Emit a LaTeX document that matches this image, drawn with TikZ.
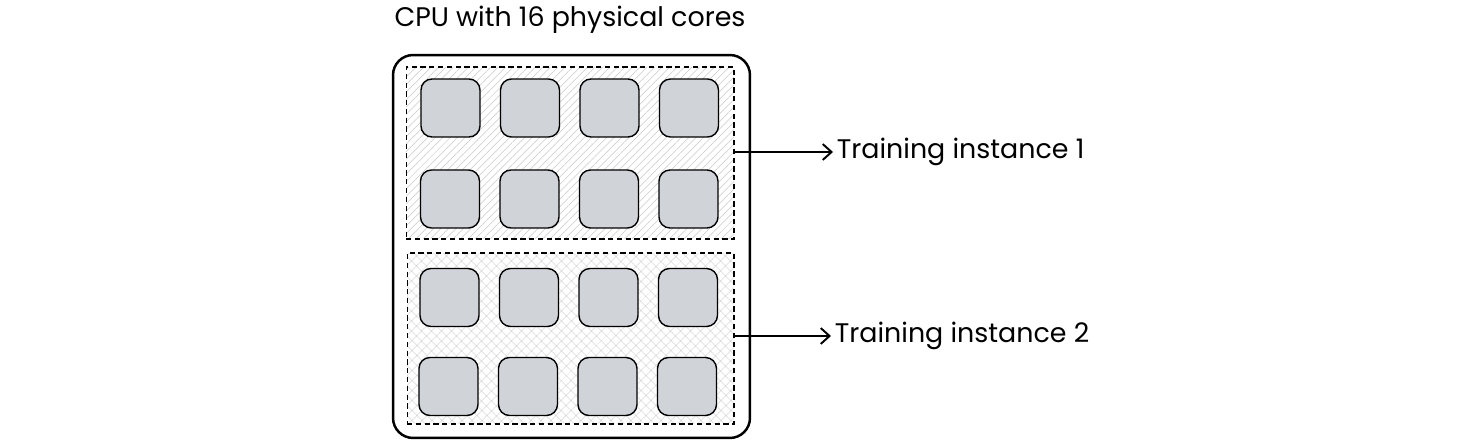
\documentclass[tikz,border=0pt]{standalone}
\usepackage{fontspec}
\setmainfont{Poppins}
\usetikzlibrary{patterns.meta,arrows.meta}
\definecolor{coregray}{RGB}{208,212,216}
\definecolor{hatchgray}{RGB}{200,200,200}
\tikzset{
  core/.style={draw,line width=0.8pt,rounded corners=0.22cm,fill=coregray,minimum width=1.18cm,minimum height=1.16cm},
  group/.style={draw,dash pattern=on 3pt off 2pt,line width=0.6pt,inner sep=0pt},
  caption/.style={font=\fontsize{15.3}{18}\selectfont,inner sep=2pt}
}
\begin{document}
\begin{tikzpicture}[x=0.02cm,y=-0.02cm]
                    \useasboundingbox (0,0) rectangle (1482,446);
                    \node[caption] (title) at (570,20) {CPU with 16 physical cores};
                    \node[draw,line width=1.4pt,rounded corners=0.4cm,minimum width=7.14cm,minimum height=7.66cm] (cpu) at (571.5,246.5) {};
                    \node[group,minimum width=6.56cm,minimum height=3.44cm,pattern={Lines[angle=45,distance=3pt,line width=0.3pt]},pattern color=hatchgray] (inst_1) at (570,153) {};
                    \node[group,minimum width=6.54cm,minimum height=3.42cm,pattern={Hatch[angle=45,distance=4pt,line width=0.3pt]},pattern color=hatchgray] (inst_2) at (570.5,338.5) {};
                    % first instance
                    \node[core] (c1) at (450.5,108) {};
                    \node[core] (c2) at (530,108) {};
                    \node[core] (c3) at (609.5,108) {};
                    \node[core] (c4) at (689,108) {};
                    \node[core] (c5) at (450,199) {};
                    \node[core] (c6) at (529.5,199) {};
                    \node[core] (c7) at (609,199) {};
                    \node[core] (c8) at (688.5,199) {};
                    % second instance
                    \node[core] (c9) at (449.5,297.5) {};
                    \node[core] (c10) at (529,297.5) {};
                    \node[core] (c11) at (608.5,297.5) {};
                    \node[core] (c12) at (688,297.5) {};
                    \node[core] (c13) at (448.5,386.5) {};
                    \node[core] (c14) at (528,386.5) {};
                    \node[core] (c15) at (607.5,386.5) {};
                    \node[core] (c16) at (687,386.5) {};

                    \node[caption,anchor=west] (label_1) at (833,152) {Training instance 1};
                    \node[caption,anchor=west] (label_2) at (831,336) {Training instance 2};

                    \draw[line width=1.1pt,-{Straight Barb[length=5pt,width=9pt]}]  (inst_1.east |- label_1) -- (label_1.west);
                    \draw[line width=1.1pt,-{Straight Barb[length=5pt,width=9pt]}]  (inst_2.east |- label_2) -- (label_2.west);
                \end{tikzpicture}
\end{document}
